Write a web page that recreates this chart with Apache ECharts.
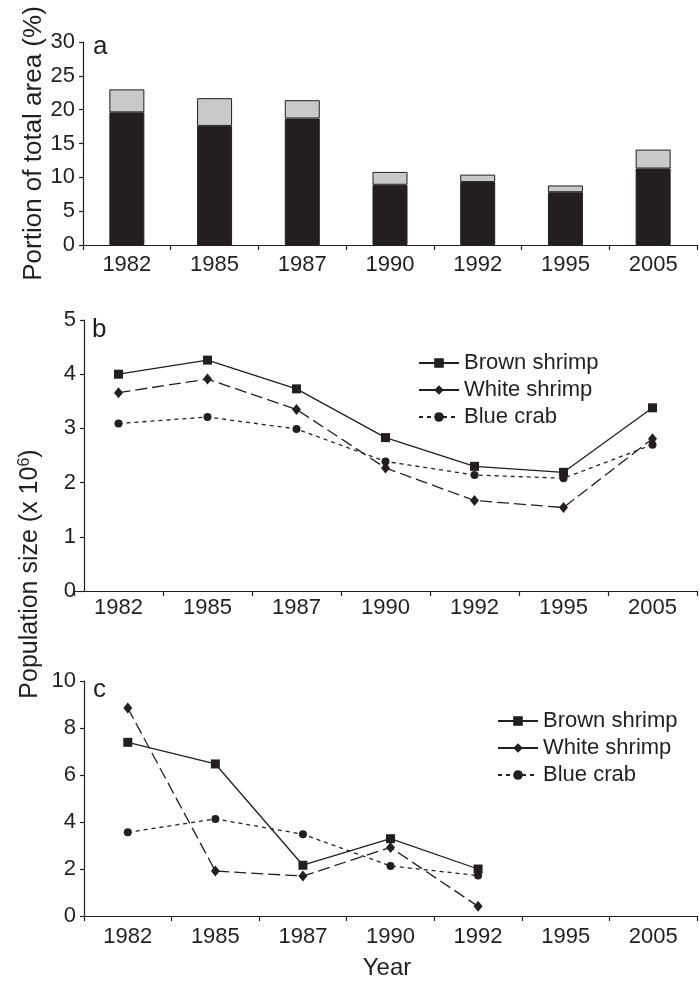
<!DOCTYPE html>
<html>
<head>
<meta charset="utf-8">
<script src="https://cdn.jsdelivr.net/npm/echarts@6/dist/echarts.min.js"></script>
<style>html,body{margin:0;padding:0;background:#fff;}#c{width:699px;height:982px;}</style>
</head>
<body>
<div id="c"></div>
<script>
var categories = ['1982','1985','1987','1990','1992','1995','2005'];
// Panel a: portion of total area (%)
var areaBlack = [19.6, 17.6, 18.7, 8.9, 9.3, 7.8, 11.3];
var areaGrey  = [3.4, 4.1, 2.7, 1.9, 1.1, 1.0, 2.8];
// Panel b: population size (x 10^6)
var bBrown = [4.00, 4.26, 3.73, 2.83, 2.30, 2.19, 3.38];
var bWhite = [3.66, 3.91, 3.35, 2.27, 1.67, 1.54, 2.81];
var bBlue  = [3.09, 3.21, 2.99, 2.39, 2.14, 2.08, 2.70];
// Panel c
var cBrown = [7.39, 6.47, 2.16, 3.29, 2.00];
var cWhite = [8.85, 1.91, 1.70, 2.92, 0.41];
var cBlue  = [3.56, 4.13, 3.48, 2.13, 1.72];
var seriesNames = ['Brown shrimp', 'White shrimp', 'Blue crab'];
var aTicks = {min: 0, max: 30, interval: 5};
var bTicks = {min: 0, max: 5, interval: 1};
var cTicks = {min: 0, max: 10, interval: 2};

var INK = '#231f20';
var FONT = '"Liberation Sans", Arial, sans-serif';
var chart = echarts.init(document.getElementById('c'), null, {renderer: 'canvas'});

function xAx(gi, margin) {
  return {
    type: 'category', gridIndex: gi, data: categories, boundaryGap: true,
    axisLine: {show: true, lineStyle: {color: INK, width: 1.2}},
    axisTick: {show: true, length: 5, lineStyle: {color: INK, width: 1.2}},
    axisLabel: {color: INK, fontSize: 22, fontFamily: FONT, margin: margin, interval: 0},
    splitLine: {show: false}
  };
}
function yAx(gi, t, extra) {
  var o = {
    type: 'value', gridIndex: gi, min: t.min, max: t.max, interval: t.interval,
    axisLine: {show: true, lineStyle: {color: INK, width: 1.2}},
    axisTick: {show: true, length: 4, lineStyle: {color: INK, width: 1.2}},
    axisLabel: {color: INK, fontSize: 22, fontFamily: FONT, margin: 8},
    splitLine: {show: false}
  };
  for (var k in extra) o[k] = extra[k];
  return o;
}
var lineStyles = [
  {symbol: 'rect', symbolSize: 9, type: 'solid'},
  {symbol: 'diamond', symbolSize: [9, 11], type: [12, 5]},
  {symbol: 'circle', symbolSize: 8, type: [4, 4]}
];
function lineSeries(name, idx, data, axisIdx) {
  var s = lineStyles[idx];
  return {
    name: name, type: 'line', xAxisIndex: axisIdx, yAxisIndex: axisIdx, data: data,
    symbol: s.symbol, symbolSize: s.symbolSize, showSymbol: true,
    lineStyle: {color: INK, width: 1.3, type: s.type},
    itemStyle: {color: INK},
    z: 3 - idx
  };
}
function legend(left, top) {
  return {
    data: [
      {name: seriesNames[0]},
      {name: seriesNames[1], lineStyle: {type: 'solid'}},
      {name: seriesNames[2]}
    ],
    orient: 'vertical', left: left, top: top,
    itemWidth: 40, itemHeight: 12, itemGap: 5,
    textStyle: {color: INK, fontSize: 22, fontFamily: FONT, lineHeight: 22},
    selectedMode: false
  };
}

var option = {
  animation: false,
  backgroundColor: '#fff',
  grid: [
    {left: 83, right: 2, top: 42, height: 203},
    {left: 74, right: 2, top: 320, height: 271},
    {left: 84, right: 2, top: 681, height: 235}
  ],
  xAxis: [xAx(0, 9), xAx(1, 6), xAx(2, 10)],
  yAxis: [
    yAx(0, aTicks, {name: 'Portion of total area (%)', nameLocation: 'middle', nameGap: 36,
      nameMoveOverlap: false,
      nameTextStyle: {color: INK, fontSize: 26, fontFamily: FONT}}),
    yAx(1, bTicks, {offset: -10}),
    yAx(2, cTicks, {})
  ],
  legend: [legend(413, 347), legend(492, 705)],
  graphic: [
    {type: 'text', x: 93, y: 47, style: {text: 'a', font: '26px ' + FONT, fill: INK, textAlign: 'left', textVerticalAlign: 'middle'}},
    {type: 'text', x: 92, y: 330, style: {text: 'b', font: '26px ' + FONT, fill: INK, textAlign: 'left', textVerticalAlign: 'middle'}},
    {type: 'text', x: 93, y: 690, style: {text: 'c', font: '26px ' + FONT, fill: INK, textAlign: 'left', textVerticalAlign: 'middle'}},
    {type: 'text', x: 30, y: 574, rotation: Math.PI / 2,
      style: {text: '{m|Population size (x 10}{s|6}{m|)}', fill: INK, textAlign: 'center', textVerticalAlign: 'middle',
        rich: {m: {fontSize: 25, fontFamily: FONT, color: INK, lineHeight: 27},
               s: {fontSize: 16, fontFamily: FONT, color: INK, lineHeight: 16, padding: [0, 0, 11, 0]}}}},
    {type: 'text', x: 387, y: 968, style: {text: 'Year', font: '24px ' + FONT, fill: INK, textAlign: 'center', textVerticalAlign: 'middle'}}
  ],
  series: [
    {name: 'black', type: 'bar', stack: 'a', xAxisIndex: 0, yAxisIndex: 0, data: areaBlack, barWidth: 35,
      itemStyle: {color: INK, borderColor: INK, borderWidth: 1}},
    {name: 'grey', type: 'bar', stack: 'a', xAxisIndex: 0, yAxisIndex: 0, data: areaGrey, barWidth: 35,
      itemStyle: {color: '#c8c9ca', borderColor: INK, borderWidth: 1}},
    lineSeries(seriesNames[0], 0, bBrown, 1),
    lineSeries(seriesNames[1], 1, bWhite, 1),
    lineSeries(seriesNames[2], 2, bBlue, 1),
    lineSeries(seriesNames[0], 0, cBrown, 2),
    lineSeries(seriesNames[1], 1, cWhite, 2),
    lineSeries(seriesNames[2], 2, cBlue, 2)
  ]
};
chart.setOption(option);
</script>
</body>
</html>
